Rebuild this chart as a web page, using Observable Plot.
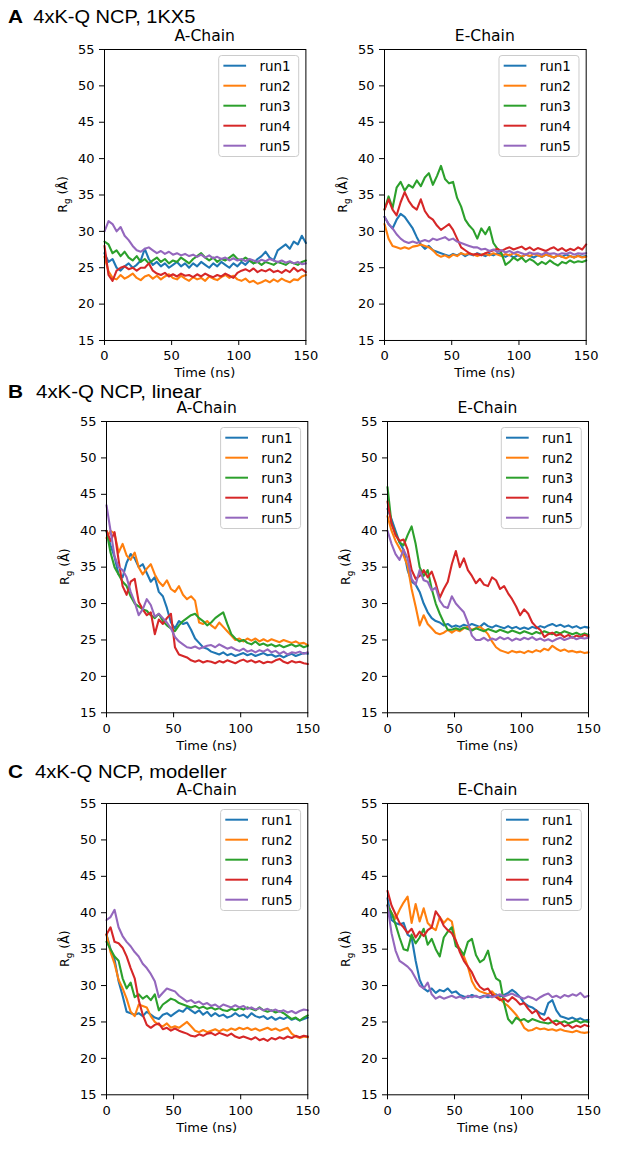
<!DOCTYPE html>
<html>
<head>
<meta charset="utf-8">
<script src="https://cdn.jsdelivr.net/npm/d3@7"></script>
<script src="https://cdn.jsdelivr.net/npm/@observablehq/plot@0.6"></script>
<style>
  html, body { margin: 0; padding: 0; background: #fff; }
  #root { position: relative; width: 617px; height: 1150px; overflow: hidden; background: #fff; }
  .panel { position: absolute; }
  #overlay { position: absolute; left: 0; top: 0; pointer-events: none; }
</style>
</head>
<body>
<div id="root"></div>
<script>
// ---------- data ----------
const time = [0,3,6,9,12,15,18,21,24,27,30,33,36,39,42,45,48,51,54,57,60,63,66,69,72,75,78,81,84,87,90,93,96,99,102,105,108,111,114,117,120,123,126,129,132,135,138,141,144,147,150];
const runNames = ["run1","run2","run3","run4","run5"];
const runColors = ["#1f77b4","#ff7f0e","#2ca02c","#d62728","#9467bd"];
const xTicks = [0,50,100,150];
const yTicks = [15,20,25,30,35,40,45,50,55];
const rowLetters = ["A","B","C"];
const rowTitles = ["4xK-Q NCP, 1KX5","4xK-Q NCP, linear","4xK-Q NCP, modeller"];
const chainTitles = ["A-Chain","E-Chain"];

// 1KX5, A-Chain
const kx5A_run1 = [27.0,25.8,26.2,25.0,24.6,25.2,25.6,25.0,25.4,26.0, 27.6,26.2,25.4,25.8,25.2,25.6,25.0,25.4,25.8,25.2, 25.6,25.0,25.6,25.2,25.8,25.4,25.0,25.6,25.2,25.8, 25.4,25.0,25.6,25.2,25.8,25.4,26.0,25.6,26.2,26.6, 27.2,26.4,26.0,27.4,27.8,28.2,27.6,28.6,28.2,29.4,28.4];
const kx5A_run2 = [26.5,24.5,23.6,23.4,24.0,23.5,23.8,24.2,23.6,23.3, 23.8,24.0,23.5,23.9,23.4,23.8,24.1,23.6,23.4,23.9, 23.5,23.2,23.7,23.4,23.6,23.2,23.8,23.5,23.3,23.7, 24.0,23.6,23.9,23.4,23.2,23.5,23.0,23.2,22.8,23.0, 23.3,23.0,23.4,23.1,23.5,23.2,23.0,23.4,23.3,23.8,24.0];
const kx5A_run3 = [28.6,28.2,27.0,27.4,26.6,27.2,26.4,26.0,26.6,25.8, 26.2,25.6,26.0,26.4,25.8,26.2,25.6,26.0,25.8,26.4, 26.0,25.6,26.2,26.6,27.0,26.4,26.0,26.4,25.8,26.2, 26.0,26.4,26.8,26.2,26.0,26.4,26.0,25.6,25.8,25.4, 25.8,25.6,25.4,25.8,25.6,25.4,25.8,25.6,25.4,25.8,26.0];
const kx5A_run4 = [28.0,24.0,23.2,24.6,25.0,25.2,24.8,25.0,24.6,25.0, 25.0,25.6,24.6,24.2,24.0,24.3,23.8,24.1,23.8,24.2, 23.9,24.0,23.7,24.1,23.8,24.2,23.9,23.7,24.0,23.8, 24.2,23.9,23.6,24.3,24.6,24.8,24.5,24.9,24.4,24.7, 24.5,24.8,24.4,24.6,24.3,24.7,24.4,25.0,24.5,24.8,24.4];
const kx5A_run5 = [30.0,31.4,31.0,30.0,30.6,29.4,28.8,28.0,27.4,27.2, 27.6,27.8,27.4,27.0,27.3,26.9,27.2,26.8,27.0,26.7, 26.9,26.6,26.8,26.5,26.8,26.4,26.7,26.3,26.5,26.2, 26.4,26.0,26.3,26.0,26.2,25.9,26.2,26.0,25.8,26.1, 25.9,26.2,26.0,25.8,26.0,25.7,25.9,25.6,25.8,25.5,25.6];

// 1KX5, E-Chain
const kx5E_run1 = [32.0,31.0,30.4,31.6,32.4,32.0,31.2,30.4,29.2,28.2, 27.6,28.0,27.4,27.2,27.0,26.8,26.6,26.9,26.7,27.0, 26.6,26.9,26.7,27.0,26.8,26.6,26.9,26.7,27.0,26.8, 26.5,26.8,26.4,26.7,26.5,26.8,26.6,26.4,26.7,26.5, 26.8,26.6,26.4,26.7,26.5,26.8,26.6,26.4,26.7,26.5,26.6];
const kx5E_run2 = [31.0,29.0,28.0,27.8,27.6,27.8,27.6,27.9,28.0,28.2, 28.0,27.8,27.4,26.8,26.5,26.7,26.4,26.8,26.6,27.0, 26.8,27.0,26.8,26.6,26.8,26.9,26.7,27.0,26.8,26.6, 26.9,26.7,27.0,26.8,26.5,26.8,26.6,26.9,26.7,26.5, 26.8,26.6,26.4,26.7,26.5,26.3,26.6,26.4,26.6,26.4,26.5];
const kx5E_run3 = [33.0,34.8,33.2,36.0,36.8,35.6,36.4,36.0,37.0,36.2, 37.4,38.0,36.4,37.6,39.0,37.2,36.6,36.8,34.6,33.4, 31.6,30.8,30.2,29.0,30.4,29.6,30.6,28.4,27.6,27.0, 25.4,25.8,26.4,26.0,26.4,25.8,26.2,25.9,25.4,25.8, 25.5,26.0,25.6,25.3,25.8,25.6,26.0,25.7,25.9,25.8,26.0];
const kx5E_run4 = [33.0,34.4,33.0,32.2,34.0,35.4,34.2,33.4,33.0,34.4, 32.8,32.0,31.6,30.8,30.2,30.6,31.0,30.2,29.0,27.8, 27.4,27.0,26.8,26.9,26.7,27.0,27.2,27.4,27.6,27.3, 27.6,27.8,27.5,27.7,27.9,27.5,27.8,27.4,27.7,27.5, 27.3,27.6,27.8,27.4,27.7,27.3,27.6,27.4,27.8,27.5,28.2];
const kx5E_run5 = [32.0,31.0,30.4,29.6,29.0,28.6,28.4,28.6,28.4,28.6, 28.8,28.6,29.0,28.8,29.0,29.2,28.8,29.0,28.6,28.4, 28.2,28.0,27.8,27.8,27.5,27.6,27.3,27.5,27.2,27.4, 27.1,27.3,27.0,27.2,27.0,26.8,27.1,26.9,27.0,26.8, 27.1,26.9,27.0,26.8,27.0,26.9,27.1,26.8,27.0,26.9,27.0];

// linear, A-Chain
const linA_run1 = [40.0,38.0,36.4,34.0,33.6,35.6,36.8,36.2,35.0,35.4, 34.2,33.0,33.6,31.6,31.0,29.4,27.4,26.6,27.6,27.2, 27.4,26.4,25.2,24.6,24.0,23.8,23.4,23.2,23.0,23.3, 22.9,23.1,22.8,23.0,23.2,22.9,23.1,22.8,23.0,23.2, 22.9,23.0,22.7,22.9,22.6,22.9,23.1,22.8,23.0,23.2,23.1];
const linA_run2 = [39.0,40.0,39.6,37.0,38.2,36.6,36.0,37.0,35.0,34.0, 34.8,35.4,34.0,33.0,32.4,33.2,32.0,31.6,32.4,31.2, 30.6,31.0,30.4,27.4,27.2,27.6,27.0,26.6,27.4,26.8, 26.2,25.6,25.0,25.2,24.8,25.2,24.9,25.2,24.8,25.1, 24.8,25.1,24.9,24.7,25.0,24.8,24.6,24.8,24.5,24.6,24.3];
const linA_run3 = [40.0,37.0,35.0,34.0,33.0,32.4,31.0,30.0,29.6,29.2, 29.0,28.4,28.0,28.6,27.6,27.0,26.6,26.2,27.0,27.6, 28.0,28.4,28.6,28.0,27.6,27.0,27.4,28.0,28.4,28.8, 27.2,25.8,25.2,24.8,25.0,24.6,24.4,24.8,24.3,24.5, 24.2,24.4,24.1,24.3,24.0,24.2,24.4,24.1,24.3,24.0,24.2];
const linA_run4 = [40.0,38.6,39.8,36.0,32.4,31.2,33.0,33.4,30.2,29.2, 28.4,28.8,25.8,27.8,27.2,28.0,28.6,24.0,23.0,22.8, 22.6,22.2,22.0,22.2,21.9,22.1,22.0,21.8,22.1,21.9, 22.2,22.0,21.8,22.1,22.3,22.0,22.2,21.9,22.1,21.8, 22.0,21.9,22.2,22.4,22.0,21.8,22.1,21.9,22.0,21.8,21.7];
const linA_run5 = [43.5,40.0,36.5,35.0,34.6,33.6,31.6,30.2,28.4,29.2, 30.6,29.8,28.2,28.6,28.0,27.4,26.6,25.4,24.8,24.4, 24.0,23.9,24.1,23.8,24.0,24.2,24.3,24.0,24.4,24.1, 23.8,24.0,23.7,23.5,23.8,23.4,23.6,23.3,23.6,23.4, 23.7,23.3,23.5,23.1,23.4,23.0,23.3,23.2,23.4,23.1,23.3];

// linear, E-Chain
const linE_run1 = [43.0,41.6,40.0,38.4,37.4,34.6,33.0,32.6,31.6,30.0, 28.8,28.0,27.6,27.4,27.0,27.2,26.8,27.0,26.8,27.1, 26.9,27.2,27.0,26.8,27.3,26.9,26.7,27.0,26.8,26.6, 26.9,26.6,26.8,26.5,26.7,26.5,26.8,26.6,26.9,26.7, 27.0,27.2,26.9,27.1,26.8,27.0,26.7,26.9,26.6,26.8,26.7];
const linE_run2 = [42.0,40.0,38.6,37.6,36.6,35.2,32.0,29.6,27.0,28.4, 27.2,26.6,26.0,25.8,26.0,26.4,26.0,26.4,26.2,26.6, 26.8,26.4,26.6,26.8,26.4,25.8,24.8,24.0,23.6,23.4, 23.2,23.5,23.3,23.4,23.2,23.5,23.3,23.6,23.4,23.8, 23.6,24.2,23.8,23.5,23.7,23.4,23.5,23.3,23.4,23.2,23.3];
const linE_run3 = [46.0,41.0,39.6,38.4,38.0,39.4,40.6,38.2,35.0,33.8, 34.6,32.0,30.0,28.6,27.4,26.4,26.4,26.6,26.4,26.7, 26.5,26.3,26.6,26.4,26.2,26.5,26.3,26.1,26.4,26.2, 26.0,26.3,26.1,25.9,26.2,26.0,25.8,26.1,25.9,26.2, 26.0,25.8,26.1,25.9,26.2,26.0,25.8,26.0,25.7,25.9,25.7];
const linE_run4 = [44.0,41.0,39.4,38.6,38.8,37.4,34.6,33.4,33.8,34.6, 33.6,34.4,32.8,30.8,32.0,33.0,35.4,37.2,35.0,36.2, 34.6,33.8,32.8,33.4,32.6,32.4,33.6,33.2,32.0,32.4, 31.4,30.6,29.6,28.4,29.2,28.6,27.4,26.8,26.4,25.4, 25.8,26.0,25.6,25.8,25.4,25.7,25.3,25.6,25.4,25.7,25.5];
const linE_run5 = [40.0,38.2,36.8,36.0,37.4,36.2,33.4,32.6,34.6,33.2, 33.0,31.8,32.2,30.4,29.6,29.4,31.0,30.0,29.4,28.8, 27.4,25.6,25.0,25.0,25.3,24.9,25.2,25.0,25.4,25.1, 25.3,24.9,25.2,25.0,25.3,25.1,25.4,25.0,25.2,24.9, 25.1,24.8,25.1,25.3,25.0,25.2,25.4,25.1,25.3,25.2,25.3];

// modeller, A-Chain
const modA_run1 = [37.0,35.0,33.6,30.6,28.6,26.4,26.2,26.0,26.2,25.8, 26.4,26.0,25.6,25.4,26.0,26.2,25.8,26.2,26.6,26.4, 27.0,26.6,26.2,26.6,26.0,26.4,25.8,26.2,25.8,26.0, 25.6,25.8,26.2,25.8,26.0,25.6,26.2,25.8,25.6,25.8, 25.4,25.7,25.3,25.6,25.4,25.7,25.3,25.5,25.2,25.4,25.6];
const modA_run2 = [37.0,34.6,33.0,30.8,29.6,28.2,26.4,25.8,27.4,27.2, 27.0,25.8,25.0,24.6,24.4,24.8,24.2,24.4,24.2,24.6, 25.0,24.4,23.8,23.6,23.9,23.6,23.8,24.0,23.7,24.0, 23.8,24.1,23.9,24.2,24.0,24.2,23.9,24.1,23.8,24.0, 24.2,23.9,24.1,23.8,24.0,24.2,23.4,23.0,22.8,23.0,22.9];
const modA_run3 = [36.0,35.0,34.0,33.4,31.0,29.6,30.4,28.4,28.8,28.2, 28.6,28.0,28.8,26.6,27.4,27.8,28.2,28.0,27.6,27.4, 27.2,27.0,27.2,26.9,27.1,26.8,27.0,26.7,26.9,26.6, 26.5,26.8,26.6,26.9,26.7,27.0,26.8,26.6,27.0,26.6, 26.4,26.6,26.3,26.5,26.2,25.8,25.4,25.6,25.2,25.6,25.9];
const modA_run4 = [37.0,38.0,36.0,35.8,35.2,34.0,32.4,31.0,28.0,26.0, 24.6,24.2,24.6,24.8,24.0,24.2,23.8,24.1,23.8,23.6, 23.4,23.1,23.0,23.3,23.1,23.4,23.5,23.2,23.5,23.3, 23.1,23.4,23.0,22.8,23.0,22.8,22.6,22.9,22.5,22.7, 22.4,22.8,22.6,22.9,22.7,23.0,22.8,23.1,22.9,23.1,23.0];
const modA_run5 = [39.0,39.4,40.4,38.0,36.8,36.0,35.4,34.6,34.0,33.0, 32.4,31.6,30.6,28.4,29.0,29.6,29.4,29.2,28.6,28.2, 27.8,28.0,27.6,27.8,27.4,27.6,27.2,27.4,27.0,27.4, 27.2,27.0,27.3,27.0,27.2,26.8,27.0,26.7,26.9,26.6, 26.8,26.5,26.7,26.4,26.6,26.3,26.5,26.2,26.5,26.7,26.6];

// modeller, E-Chain
const modE_run1 = [42.0,39.0,38.6,38.4,38.6,37.0,36.6,33.4,30.8,29.6, 29.2,29.6,29.0,29.4,29.2,29.6,29.0,29.2,28.7,28.5, 28.4,28.7,28.5,28.4,28.6,28.4,28.6,28.8,28.5,28.7, 29.0,29.4,29.0,28.4,27.6,27.2,27.0,26.6,26.2,26.0, 27.6,28.0,26.6,25.8,25.6,25.4,25.6,25.3,25.5,25.2,25.3];
const modE_run2 = [41.0,40.0,39.2,40.4,41.4,42.2,38.6,41.2,38.8,40.6, 38.6,38.0,37.6,39.4,38.6,39.2,38.8,36.0,35.0,34.0, 32.6,30.6,29.6,29.2,29.0,28.8,29.2,28.6,28.2,27.6, 27.2,26.6,26.0,25.2,24.2,23.8,23.9,24.2,24.0,24.1, 23.9,24.0,23.8,24.0,23.8,23.7,23.6,23.8,23.6,23.5,23.6];
const modE_run3 = [41.0,40.0,38.4,36.6,35.0,34.8,37.0,35.8,36.6,37.8, 35.6,36.4,35.0,34.0,36.6,37.4,38.0,35.4,35.0,34.2, 36.0,36.4,34.2,33.2,33.6,34.8,32.4,31.0,30.6,27.6, 25.4,24.8,25.6,25.2,25.4,25.0,25.4,25.2,25.0,24.9, 24.8,25.0,25.2,24.9,25.1,24.8,25.0,25.2,24.9,25.1,25.0];
const modE_run4 = [43.0,41.0,39.8,38.6,38.0,37.2,37.8,36.6,37.4,36.8, 37.6,38.0,40.2,39.4,38.2,37.6,37.2,36.2,34.6,33.4, 32.6,31.8,30.6,29.8,29.4,29.6,28.8,28.4,28.0,28.2, 27.8,28.4,28.0,27.4,27.6,26.8,26.2,26.6,25.6,25.2, 25.6,25.0,24.6,24.9,24.4,24.6,24.2,24.5,24.3,24.6,24.4];
const modE_run5 = [41.0,37.2,34.8,33.4,33.0,32.6,32.0,31.0,30.0,29.6, 30.4,28.8,28.2,28.5,28.2,28.4,28.6,28.3,28.5,28.2, 28.6,28.4,28.6,28.3,28.5,28.7,28.4,28.6,28.8,28.5, 28.7,28.9,28.6,28.4,28.2,28.5,28.3,28.0,28.4,28.7, 28.9,28.4,28.6,28.3,28.7,28.5,28.8,28.6,29.0,28.4,28.6];

// ---------- layout ----------
const panels = [
  {row:0, col:0, L:104.3, R:305.7, T:49,    B:340,    runs:[kx5A_run1,kx5A_run2,kx5A_run3,kx5A_run4,kx5A_run5]},
  {row:0, col:1, L:384.3, R:586,   T:49,    B:340,    runs:[kx5E_run1,kx5E_run2,kx5E_run3,kx5E_run4,kx5E_run5]},
  {row:1, col:0, L:106,   R:307.3, T:421,   B:712.3,  runs:[linA_run1,linA_run2,linA_run3,linA_run4,linA_run5]},
  {row:1, col:1, L:386.7, R:587.7, T:421,   B:712.3,  runs:[linE_run1,linE_run2,linE_run3,linE_run4,linE_run5]},
  {row:2, col:0, L:106,   R:307.3, T:802.7, B:1094,   runs:[modA_run1,modA_run2,modA_run3,modA_run4,modA_run5]},
  {row:2, col:1, L:387.3, R:588.3, T:802.7, B:1094,   runs:[modE_run1,modE_run2,modE_run3,modE_run4,modE_run5]}
];
const headerPos = [
  {base:22.7, lx:8, tx:33.3, tlen:162},
  {base:397.7, lx:8, tx:36, tlen:165.7},
  {base:778.3, lx:8, tx:35, tlen:191.7}
];

const root = document.getElementById("root");
const FONT = "'DejaVu Sans', sans-serif";

function drawPanel(p) {
  const mL = 62, mR = 12, mT = 30, mB = 46;
  const w = p.R - p.L, h = p.B - p.T;
  const marks = [];
  p.runs.forEach((vals, k) => {
    const rows = time.map((t, i) => ({t, v: vals[i]}));
    marks.push(Plot.line(rows, {x: "t", y: "v", stroke: runColors[k], strokeWidth: 2.1}));
  });
  marks.push(Plot.frame({stroke: "#000", strokeWidth: 1}));
  marks.push(Plot.axisX({ticks: xTicks, tickSize: 5, tickPadding: 5.5, label: null, tickFormat: d => String(d)}));
  marks.push(Plot.axisY({ticks: yTicks, tickSize: 5, tickPadding: 5, label: null, tickFormat: d => String(d)}));
  const svg = Plot.plot({
    width: w + mL + mR,
    height: h + mT + mB,
    marginLeft: mL, marginRight: mR, marginTop: mT, marginBottom: mB,
    x: {domain: [0, 150]},
    y: {domain: [15, 55]},
    marks,
    style: {fontFamily: FONT, fontSize: "13px", color: "#000", background: "transparent", maxWidth: "none", overflow: "visible"}
  });
  const s = d3.select(svg);
  // panel title
  s.append("text")
    .attr("x", mL + w / 2).attr("y", mT - 7.5)
    .attr("text-anchor", "middle")
    .style("font-family", FONT).style("font-size", "15.6px").attr("fill", "#000")
    .text(chainTitles[p.col]);
  // x label
  s.append("text")
    .attr("x", mL + w / 2).attr("y", mT + h + 37.5)
    .attr("text-anchor", "middle")
    .style("font-family", FONT).style("font-size", "13px").attr("fill", "#000")
    .text("Time (ns)");
  // y label with subscript
  const yl = s.append("text")
    .attr("transform", `translate(${mL - 41},${mT + h / 2}) rotate(-90)`)
    .attr("text-anchor", "middle").attr("dy", "0.35em")
    .style("font-family", FONT).style("font-size", "12.5px").attr("fill", "#000");
  yl.append("tspan").text("R");
  yl.append("tspan").attr("dy", 3).style("font-size", "8.8px").text("g");
  yl.append("tspan").attr("dy", -3).text(" (Å)");
  // legend
  const bw = 80, bh = 101;
  const bx = mL + w - 6.7 - bw, by = mT + 6.5;
  const g = s.append("g");
  g.append("rect").attr("x", bx).attr("y", by).attr("width", bw).attr("height", bh)
    .attr("rx", 3).attr("fill", "#fff").attr("fill-opacity", 0.8)
    .attr("stroke", "#cccccc").attr("stroke-width", 1);
  runNames.forEach((name, k) => {
    const yy = by + 10.2 + 20 * k;
    g.append("line").attr("x1", bx + 4.7).attr("x2", bx + 27.4).attr("y1", yy).attr("y2", yy)
      .attr("stroke", runColors[k]).attr("stroke-width", 2);
    g.append("text").attr("x", bx + 40.7).attr("y", yy).attr("dy", "0.36em")
      .attr("text-anchor", "start")
      .style("font-family", FONT).style("font-size", "13.5px").attr("fill", "#000")
      .text(name);
  });
  const div = document.createElement("div");
  div.className = "panel";
  div.style.left = (p.L - mL) + "px";
  div.style.top = (p.T - mT) + "px";
  div.appendChild(svg);
  root.appendChild(div);
}

panels.forEach(drawPanel);

// row headers
const ov = d3.select(root).append("svg").attr("id", "overlay").attr("width", 617).attr("height", 1150);
headerPos.forEach((hp, r) => {
  ov.append("text").attr("x", hp.lx).attr("y", hp.base)
    .attr("textLength", 15).attr("lengthAdjust", "spacingAndGlyphs")
    .style("font-family", "'Liberation Sans', Arial, sans-serif").style("font-size", "17.5px").style("font-weight", "bold")
    .attr("fill", "#000").text(rowLetters[r]);
  ov.append("text").attr("x", hp.tx).attr("y", hp.base)
    .attr("textLength", hp.tlen).attr("lengthAdjust", "spacingAndGlyphs")
    .style("font-family", "'Liberation Sans', Arial, sans-serif").style("font-size", "17.5px")
    .attr("fill", "#000").text(rowTitles[r]);
});
</script>
</body>
</html>
